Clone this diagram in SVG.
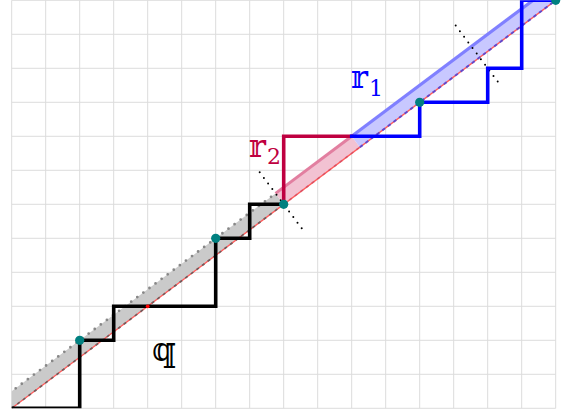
<svg xmlns="http://www.w3.org/2000/svg" width="566" height="412" viewBox="0 0 566 412">
<defs>
<clipPath id="gridclip"><rect x="11.7" y="0.3" width="544" height="408"/></clipPath>
<style>
.grid{stroke:#dcdcdc;stroke-width:1;fill:none}
.stair{fill:none;stroke-width:3.6;stroke-linejoin:miter;stroke-linecap:square}
.dot{fill:#008080}
.perp{stroke:#000;stroke-width:2;stroke-linecap:round;stroke-dasharray:0 7;fill:none}
.lbl{font-family:"DejaVu Serif","DejaVu Sans",serif}
</style>
</defs>
<rect width="566" height="412" fill="#fff"/>
<g id="grid">
<path class="grid" d="M11.7,0.3V408.3M45.7,0.3V408.3M79.7,0.3V408.3M113.7,0.3V408.3M147.7,0.3V408.3M181.7,0.3V408.3M215.7,0.3V408.3M249.7,0.3V408.3M283.7,0.3V408.3M317.7,0.3V408.3M351.7,0.3V408.3M385.7,0.3V408.3M419.7,0.3V408.3M453.7,0.3V408.3M487.7,0.3V408.3M521.7,0.3V408.3M555.7,0.3V408.3M11.7,408.3H555.7M11.7,374.3H555.7M11.7,340.3H555.7M11.7,306.3H555.7M11.7,272.3H555.7M11.7,238.3H555.7M11.7,204.3H555.7M11.7,170.3H555.7M11.7,136.3H555.7M11.7,102.3H555.7M11.7,68.3H555.7M11.7,34.3H555.7M11.7,0.3H555.7"/>
</g>
<g id="bands" clip-path="url(#gridclip)">
<polygon points="11.7,408.3 283.7,204.3 275.54,193.42 3.54,397.42" fill="#cacaca"/>
<polygon points="283.7,204.3 359.86,147.18 351.7,136.3 275.54,193.42" fill="#f2c2d2"/>
<polygon points="359.86,147.18 563.86,-5.82 547.54,-10.58 351.7,136.3" fill="#c8c8ff"/>
<line x1="11.7" y1="408.3" x2="555.7" y2="0.3" stroke="#ff5a5a" stroke-width="1.3"/>
<line x1="3.54" y1="397.42" x2="275.54" y2="193.42" stroke="#888" stroke-width="2.8" stroke-linecap="round" stroke-dasharray="0 7.6"/>
<line x1="275.54" y1="193.42" x2="351.7" y2="136.3" stroke="#e27fa0" stroke-width="3"/>
<line x1="351.7" y1="136.3" x2="547.54" y2="-10.58" stroke="#8080ff" stroke-width="3.2"/>
<line x1="11.7" y1="408.3" x2="283.7" y2="204.3" stroke="#555" stroke-width="1.8" stroke-dasharray="3 4" opacity="0.8"/>
<line x1="283.7" y1="204.3" x2="359.86" y2="147.18" stroke="#c04060" stroke-width="1.8" stroke-dasharray="3 4" opacity="0.5"/>
<line x1="359.86" y1="147.18" x2="555.7" y2="0.3" stroke="#4040e0" stroke-width="2" stroke-dasharray="3.5 3.5" opacity="0.8"/>
</g>
<g id="perpendiculars">
<line class="perp" x1="259.7" y1="172.3" x2="304.7" y2="232.3"/>
<line class="perp" x1="455.7" y1="25.6" x2="500.3" y2="85.1"/>
</g>
<g id="connectors" clip-path="url(#gridclip)">
<path class="stair" stroke="#000" d="M11.7,408.3H79.7V340.3H113.7V306.3H215.7V238.3H249.7V204.3H283.7"/>
<path class="stair" stroke="#bf0040" d="M283.7,204.3V136.3H351.7"/>
<path class="stair" stroke="#0000ff" d="M351.7,136.3H419.7V102.3H487.7V68.3H521.7V0.3H555.7"/>
</g>
<g id="points">
<circle cx="147.7" cy="306.3" r="1.9" fill="#ff0000"/>
<circle class="dot" cx="79.7" cy="340.3" r="4.6"/>
<circle class="dot" cx="215.7" cy="238.3" r="4.6"/>
<circle class="dot" cx="283.7" cy="204.3" r="4.6"/>
<circle class="dot" cx="419.7" cy="102.3" r="4.6"/>
<circle class="dot" cx="555.7" cy="0.3" r="4.6"/>
</g>
<g id="label-q"><text class="lbl" x="152" y="361" font-size="34" fill="#000">𝕢</text></g>
<g id="label-r2"><text class="lbl" x="249" y="157" font-size="32" fill="#bf0040">𝕣</text><text class="lbl" x="267" y="164" font-size="22" fill="#bf0040">2</text></g>
<g id="label-r1"><text class="lbl" x="351" y="88" font-size="32" fill="#0000ff">𝕣</text><text class="lbl" x="369" y="96" font-size="22" fill="#0000ff">1</text></g>
</svg>
